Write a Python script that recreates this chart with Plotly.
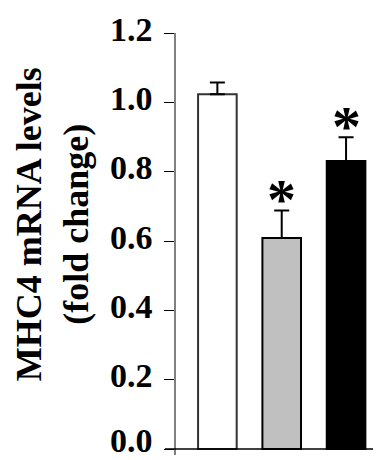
import plotly.graph_objects as go

categories = ["Control", "Treatment A", "Treatment B"]
values = [1.023, 0.609, 0.831]
errors = [0.034, 0.079, 0.068]
significant = [False, True, True]
fill_colors = ["#ffffff", "#c0c0c0", "#000000"]
edge_colors = ["#333333", "#000000", "#000000"]
y_ticks = [0.0, 0.2, 0.4, 0.6, 0.8, 1.0, 1.2]
y_tick_labels = ["0.0", "0.2", "0.4", "0.6", "0.8", "1.0", "1.2"]
y_title = "MHC4 mRNA levels<br>(fold change)"

FONT = "Liberation Serif"

x_pos = list(range(len(categories)))

fig = go.Figure()
fig.add_trace(go.Bar(
    x=x_pos, y=values, width=0.6,
    marker=dict(color=fill_colors, line=dict(color=edge_colors, width=2)),
    error_y=dict(type="data", array=errors, symmetric=False, arrayminus=[0] * len(errors),
                 color="#000000", thickness=2, width=7.5),
    showlegend=False,
))

for xi, v, e, s in zip(x_pos, values, errors, significant):
    if s:
        fig.add_annotation(x=xi, y=v + e, xref="x", yref="y", text="*",
                           showarrow=False, yanchor="bottom", yshift=-24,
                           font=dict(family=FONT, size=58, color="#000000", weight="bold"))

# tick labels placed on the y scale (nudged up slightly as in the reference)
for tv, tl in zip(y_ticks, y_tick_labels):
    fig.add_annotation(x=-0.104, y=tv, xref="paper", yref="y", text=tl,
                       showarrow=False, xanchor="right", yanchor="middle",
                       yshift=9 if tv == 0 else 4,
                       font=dict(family=FONT, size=34, color="#000000", weight="bold"))

fig.add_annotation(
    x=-0.605, y=0.547, xref="paper", yref="paper", text=y_title, showarrow=False,
    textangle=-90, xanchor="center", yanchor="middle",
    font=dict(family=FONT, size=36, color="#000000", weight="bold"),
)

fig.add_shape(type="line", xref="paper", yref="y", x0=-0.054, x1=1.05, y0=0, y1=0,
              layer="above", line=dict(color="#000000", width=1.5))

fig.update_layout(
    width=373, height=452,
    margin=dict(l=168, r=0, t=25, b=5, autoexpand=False),
    paper_bgcolor="white", plot_bgcolor="white",
    xaxis=dict(visible=False, range=[-0.643, 2.543], automargin=False),
    yaxis=dict(range=[-0.0173, 1.2], tickvals=y_ticks, automargin=False,
               showticklabels=False,
               showgrid=False, zeroline=False,
               showline=True, linecolor="#808080", linewidth=1.5,
               ticks="outside", ticklen=10, tickcolor="#000000", tickwidth=1),
)

fig.write_html("out.html")
